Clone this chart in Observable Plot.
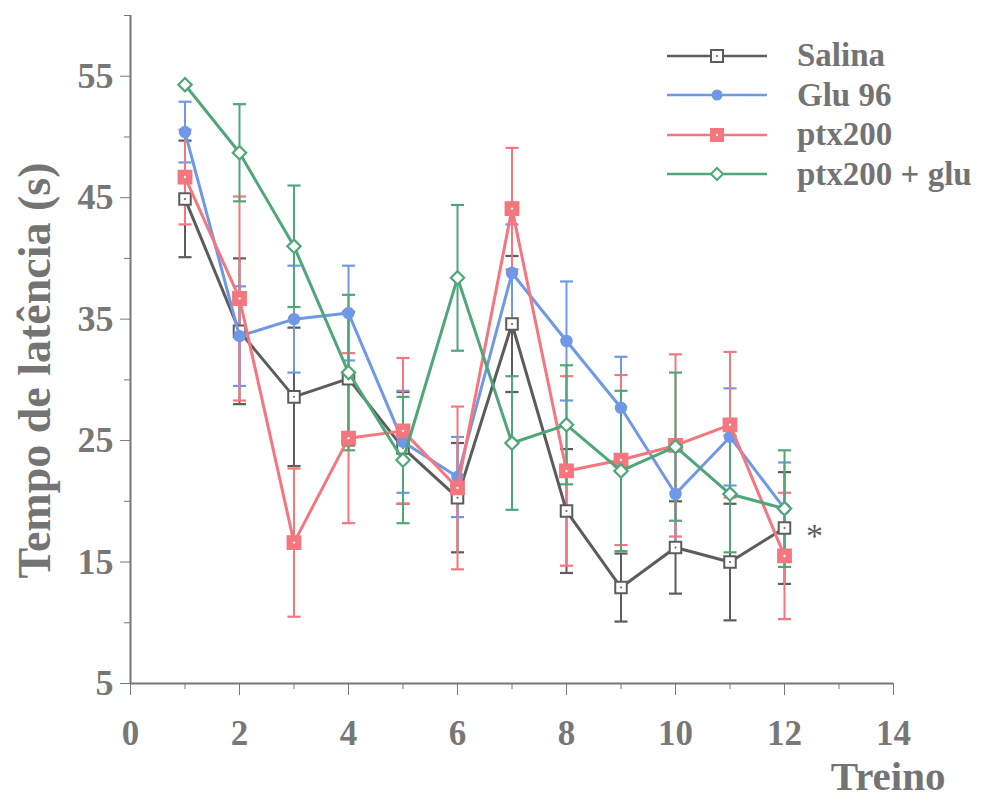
<!DOCTYPE html>
<html>
<head>
<meta charset="utf-8">
<script src="https://cdn.jsdelivr.net/npm/d3@7"></script>
<script src="https://cdn.jsdelivr.net/npm/@observablehq/plot@0.6"></script>
<style>
  html, body { margin: 0; padding: 0; background: #fff; }
  #wrap { position: relative; width: 985px; height: 801px; }
  #legend { position: absolute; left: 667px; top: 36px; font-family: "Liberation Serif", serif; font-weight: bold; color: #737373; font-size: 33px; }
  #legend .row { display: flex; align-items: center; height: 39.5px; }
  #legend .row span { margin-left: 30px; line-height: 1; }
</style>
</head>
<body>
<div id="wrap"><div id="chart"></div><div id="legend"></div></div>
<script>
const treino = [1, 2, 3, 4, 5, 6, 7, 8, 9, 10, 11, 12];
const seriesNames = ["Salina", "Glu 96", "ptx200", "ptx200 + glu"];
const salina    = [44.9, 34.0, 28.6, 30.1, 24.4, 20.3, 34.6, 19.2, 12.9, 16.2, 15.0, 17.8];
const salinaErr = [4.8, 6.0, 5.7, 5.5, 4.6, 4.5, 5.6, 5.1, 2.8, 3.8, 4.8, 4.6];
const glu       = [50.4, 33.6, 35.0, 35.5, 24.9, 22.0, 38.8, 33.2, 27.7, 20.6, 25.3, 19.4];
const gluErr    = [2.5, 4.1, 4.4, 3.9, 4.2, 3.3, 4.0, 4.9, 4.2, 4.0, 4.0, 3.8];
const ptx       = [46.7, 36.7, 16.6, 25.2, 25.8, 21.1, 44.1, 22.5, 23.4, 24.6, 26.3, 15.5];
const ptxErr    = [3.9, 8.4, 6.1, 7.0, 6.0, 6.7, 5.0, 7.8, 7.0, 7.5, 6.0, 5.2];
const ptxGlu    = [54.3, 48.7, 41.0, 30.6, 23.4, 38.4, 24.8, 26.3, 22.5, 24.5, 20.6, 19.4];
const ptxGluErr = [0, 4.0, 5.0, 6.4, 5.2, 6.0, 5.5, 4.9, 6.6, 6.1, 4.8, 4.8];
const yTicks = [5, 15, 25, 35, 45, 55];
const yMinor = [10, 20, 30, 40, 50, 60];
const xTicks = [0, 2, 4, 6, 8, 10, 12, 14];
const xMinor = [1, 3, 5, 7, 9, 11, 13];

const colors = ["#5c5c5c", "#6f98e6", "#f4767e", "#4fa679"];
const means = [salina, glu, ptx, ptxGlu];
const errs = [salinaErr, gluErr, ptxErr, ptxGluErr];

const table = [];
seriesNames.forEach((s, i) => treino.forEach((t, j) => table.push({serie: s, idx: i, x: t, y: means[i][j], e: errs[i][j]})));
const bySerie = i => table.filter(d => d.idx === i);
const capW = 0.12;

const marks = [];
marks.push(Plot.ruleX([0], {stroke: "#777", strokeWidth: 2}));
marks.push(Plot.ruleY([5], {stroke: "#777", strokeWidth: 2}));
marks.push(Plot.axisY({ticks: yTicks, tickSize: 10, tickPadding: 7, fontSize: 36, label: null}));
marks.push(Plot.axisY({ticks: yMinor, tickSize: 6, text: null, label: null}));
marks.push(Plot.axisX({ticks: xTicks, tickSize: 12, tickPadding: 25, fontSize: 35, label: null}));
marks.push(Plot.axisX({ticks: xMinor, tickSize: 6, text: null, label: null}));

[0, 1, 2, 3].forEach(i => {
  const d = bySerie(i).filter(r => r.e > 0);
  const c = colors[i];
  marks.push(Plot.ruleX(d, {x: "x", y1: r => r.y - r.e, y2: r => r.y + r.e, stroke: c, strokeWidth: 2}));
  marks.push(Plot.link(d, {x1: r => r.x - capW, x2: r => r.x + capW, y1: r => r.y + r.e, y2: r => r.y + r.e, stroke: c, strokeWidth: 2.2}));
  marks.push(Plot.link(d, {x1: r => r.x - capW, x2: r => r.x + capW, y1: r => r.y - r.e, y2: r => r.y - r.e, stroke: c, strokeWidth: 2.2}));
});
[0, 1, 2, 3].forEach(i => {
  const d = bySerie(i);
  const c = colors[i];
  marks.push(Plot.line(d, {x: "x", y: "y", stroke: c, strokeWidth: 3}));
  if (i === 0) {
    marks.push(Plot.dot(d, {x: "x", y: "y", symbol: "square", r: 6.5, fill: "white", stroke: c, strokeWidth: 2}));
    marks.push(Plot.dot(d, {x: "x", y: "y", r: 1, fill: c}));
  } else if (i === 1) {
    marks.push(Plot.dot(d, {x: "x", y: "y", symbol: "circle", r: 5.5, fill: c, stroke: c}));
  } else if (i === 2) {
    marks.push(Plot.dot(d, {x: "x", y: "y", symbol: "square", r: 7.5, fill: c, stroke: c}));
    marks.push(Plot.dot(d, {x: "x", y: "y", r: 1.2, fill: "white"}));
  } else {
    marks.push(Plot.dot(d, {x: "x", y: "y", symbol: "diamond2", r: 6, fill: "white", stroke: c, strokeWidth: 2.2}));
  }
});
marks.push(Plot.text([bySerie(0)[11]], {x: "x", y: "y", text: () => "*", dx: 30, dy: 8, fontSize: 34, fill: "#5c5c5c", fontWeight: "normal"}));
marks.push(Plot.text(["Tempo de latência (s)"], {frameAnchor: "left", text: d => d, textAnchor: "middle", rotate: -90, dx: -95, dy: 21, fontSize: 46, fill: "#747474"}));
marks.push(Plot.text(["Treino"], {frameAnchor: "bottom-right", text: d => d, textAnchor: "end", dx: 52, dy: 106, fontSize: 41, fill: "#747474"}));

const chart = Plot.plot({
  width: 985,
  height: 801,
  marginLeft: 130,
  marginRight: 92,
  marginTop: 15,
  marginBottom: 118,
  style: {fontFamily: "'Liberation Serif', 'Times New Roman', serif", fontWeight: "bold", color: "#777", background: "white", overflow: "visible"},
  x: {domain: [0, 14]},
  y: {domain: [5, 60]},
  marks
});
document.getElementById("chart").appendChild(chart);

const legend = d3.select("#legend");
const shapes = [
  g => { g.append("rect").attr("x", 44).attr("y", -6).attr("width", 12).attr("height", 12).attr("fill", "white").attr("stroke", colors[0]).attr("stroke-width", 2); g.append("circle").attr("cx", 50).attr("r", 1).attr("fill", colors[0]); },
  g => { g.append("circle").attr("cx", 50).attr("r", 5.5).attr("fill", colors[1]); },
  g => { g.append("rect").attr("x", 43).attr("y", -7).attr("width", 14).attr("height", 14).attr("fill", colors[2]); g.append("circle").attr("cx", 50).attr("r", 1.2).attr("fill", "white"); },
  g => { g.append("path").attr("d", "M50,-6L56,0L50,6L44,0Z").attr("fill", "white").attr("stroke", colors[3]).attr("stroke-width", 2); }
];
seriesNames.forEach((s, i) => {
  const row = legend.append("div").attr("class", "row");
  const svg = row.append("svg").attr("width", 100).attr("height", 20).attr("viewBox", "0 -10 100 20");
  const g = svg.append("g");
  g.append("line").attr("x1", 0).attr("x2", 100).attr("y1", 0).attr("y2", 0).attr("stroke", colors[i]).attr("stroke-width", 2.5);
  shapes[i](g);
  row.append("span").text(s);
});
</script>
</body>
</html>
